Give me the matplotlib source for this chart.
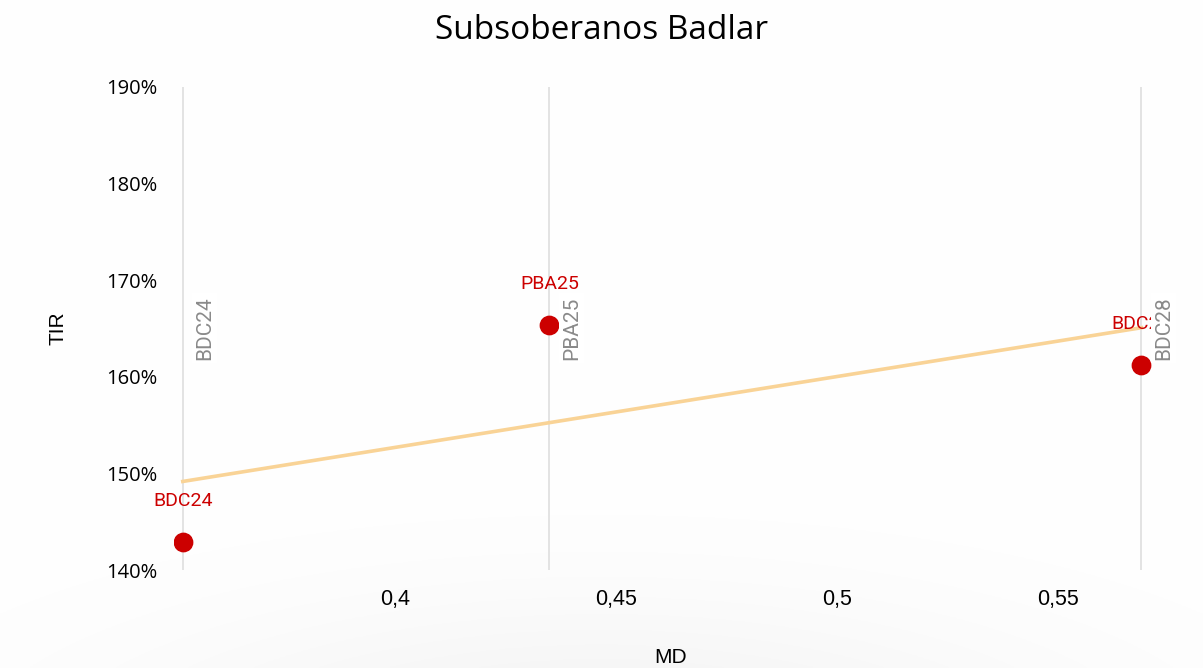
import numpy as np
import matplotlib
matplotlib.use("Agg")
import matplotlib.pyplot as plt
from matplotlib.ticker import FixedLocator, FuncFormatter

# Subsoberanos Badlar: modified duration vs IRR
bonds = ["BDC24", "PBA25", "BDC28"]
md = [0.352, 0.435, 0.569]
tir = [142.9, 165.4, 161.2]

x_ticks = [0.40, 0.45, 0.50, 0.55]
y_ticks = [140, 150, 160, 170, 180, 190]

RED = "#cc0000"
TREND = "#f9d396"
GRID = "#dedede"

fig = plt.figure(figsize=(12.03, 6.68), dpi=100)

# faint shadow at the bottom of the slide
bg = fig.add_axes([0, 0, 1, 1], zorder=-5)
gx, gy = np.meshgrid(np.linspace(0, 1, 400), np.linspace(0, 1, 300))
r2 = ((gx - 0.5) / 0.5) ** 2 + ((gy - 1.15) / 0.3) ** 2
shade = np.exp(-r2 * 1.6)
img = np.ones((300, 400, 3)) - shade[..., None] * 0.05
bg.imshow(img, extent=[0, 1, 0, 1], aspect="auto", origin="upper")
bg.axis("off")

ax = fig.add_axes([0.1446, 0.1467, 0.8263, 0.7231])
ax.set_xlim(0.35, 0.575)
ax.set_ylim(140, 190)
ax.patch.set_alpha(0)
for s in ax.spines.values():
    s.set_visible(False)

for x in md:
    ax.axvline(x, color=GRID, lw=1.2, zorder=1)

# linear trend line across the data range
k, b = np.polyfit(md, tir, 1)
xs = np.array([min(md), max(md)])
ax.plot(xs, k * xs + b, color=TREND, lw=2.6, zorder=2)

ax.scatter(md, tir, s=175, color=RED, zorder=4)

for name, x, y in zip(bonds, md, tir):
    ax.annotate(name, (x, y), xytext=(0, 23), textcoords="offset points",
                ha="center", va="bottom", color=RED, fontsize=14,
                family="Roboto", zorder=5)
    ax.annotate(name, (x, 0.435), xycoords=("data", "axes fraction"),
                xytext=(9, 0), textcoords="offset points", rotation=90,
                ha="left", va="bottom", color="#8a8a8a", fontsize=15,
                family="Roboto", zorder=6,
                bbox=dict(boxstyle="square,pad=0.15", fc="white", ec="none"))

ax.xaxis.set_major_locator(FixedLocator(x_ticks))
ax.xaxis.set_major_formatter(FuncFormatter(lambda v, p: f"{v:g}".replace(".", ",")))
ax.yaxis.set_major_locator(FixedLocator(y_ticks))
ax.yaxis.set_major_formatter(FuncFormatter(lambda v, p: f"{v:.0f}%"))
ax.tick_params(axis="x", length=0, pad=14, labelsize=15.5)
ax.tick_params(axis="y", length=0, pad=12, labelsize=14.5)
for lab in ax.get_xticklabels():
    lab.set_family("Liberation Sans")
for lab in ax.get_yticklabels():
    lab.set_family("Open Sans")

ax.set_xlabel("MD", fontsize=15, family="Liberation Sans", labelpad=27)
ax.set_ylabel("TIR", fontsize=15, family="Liberation Sans", labelpad=28)

fig.text(0.5, 0.955, "Subsoberanos Badlar", ha="center", va="center",
         fontsize=24, family="Open Sans")

fig.savefig("out.png", dpi=100)
